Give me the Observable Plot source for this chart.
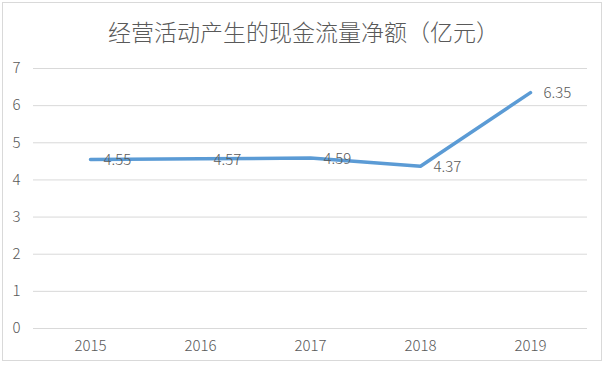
<!DOCTYPE html>
<html>
<head>
<meta charset="utf-8">
<script src="https://cdn.jsdelivr.net/npm/d3@7"></script>
<script src="https://cdn.jsdelivr.net/npm/@observablehq/plot@0.6"></script>
<style>
  html, body { margin: 0; padding: 0; background: #fff; }
  #frame { position: absolute; left: 2px; top: 2px; width: 600px; height: 359px; border: 1px solid #d9d9d9; box-sizing: border-box; }
  #title { position: absolute; left: 0; top: 0; width: 607px; height: 62px; line-height: 62px; text-align: center;
           font-family: "Noto Sans CJK SC", sans-serif; font-weight: 300; font-size: 23px; color: #595959; }
  #chart { position: absolute; left: 0; top: 49px; }
  #chart svg text { font-weight: 300; }
</style>
</head>
<body>
<div id="frame"></div>
<div id="title">经营活动产生的现金流量净额（亿元）</div>
<div id="chart"></div>
<script>
const years = ["2015", "2016", "2017", "2018", "2019"];
const values = [4.55, 4.57, 4.59, 4.37, 6.35];
const yTicks = [0, 1, 2, 3, 4, 5, 6, 7];

const data = years.map((y, i) => ({year: y, value: values[i]}));
const font = "'Noto Sans CJK SC', 'Liberation Sans', sans-serif";

const chart = Plot.plot({
  width: 607,
  height: 313,
  marginTop: 19,
  marginBottom: 34,
  marginLeft: 33,
  marginRight: 20,
  style: {fontFamily: font, fontSize: "15px", color: "#595959", background: "transparent"},
  x: {type: "point", domain: years, padding: 0.5, label: null},
  y: {domain: [0, 7], ticks: yTicks, label: null},
  marks: [
    Plot.gridY(yTicks, {stroke: "#d9d9d9", strokeOpacity: 1, strokeWidth: 1}),
    Plot.axisY(yTicks, {tickSize: 0, tickPadding: 13, fill: "#595959", fontSize: 15, label: null}),
    Plot.axisX({tickSize: 0, tickPadding: 12, fill: "#595959", fontSize: 15, label: null}),
    Plot.line(data, {x: "year", y: "value", stroke: "#5B9BD5", strokeWidth: 3.5, strokeLinecap: "round", strokeLinejoin: "round"}),
    Plot.text(data, {x: "year", y: "value", text: d => d.value.toFixed(2), textAnchor: "start", dx: 13, dy: 1, fill: "#595959", fontSize: 15})
  ]
});
document.getElementById("chart").appendChild(chart);
</script>
</body>
</html>
